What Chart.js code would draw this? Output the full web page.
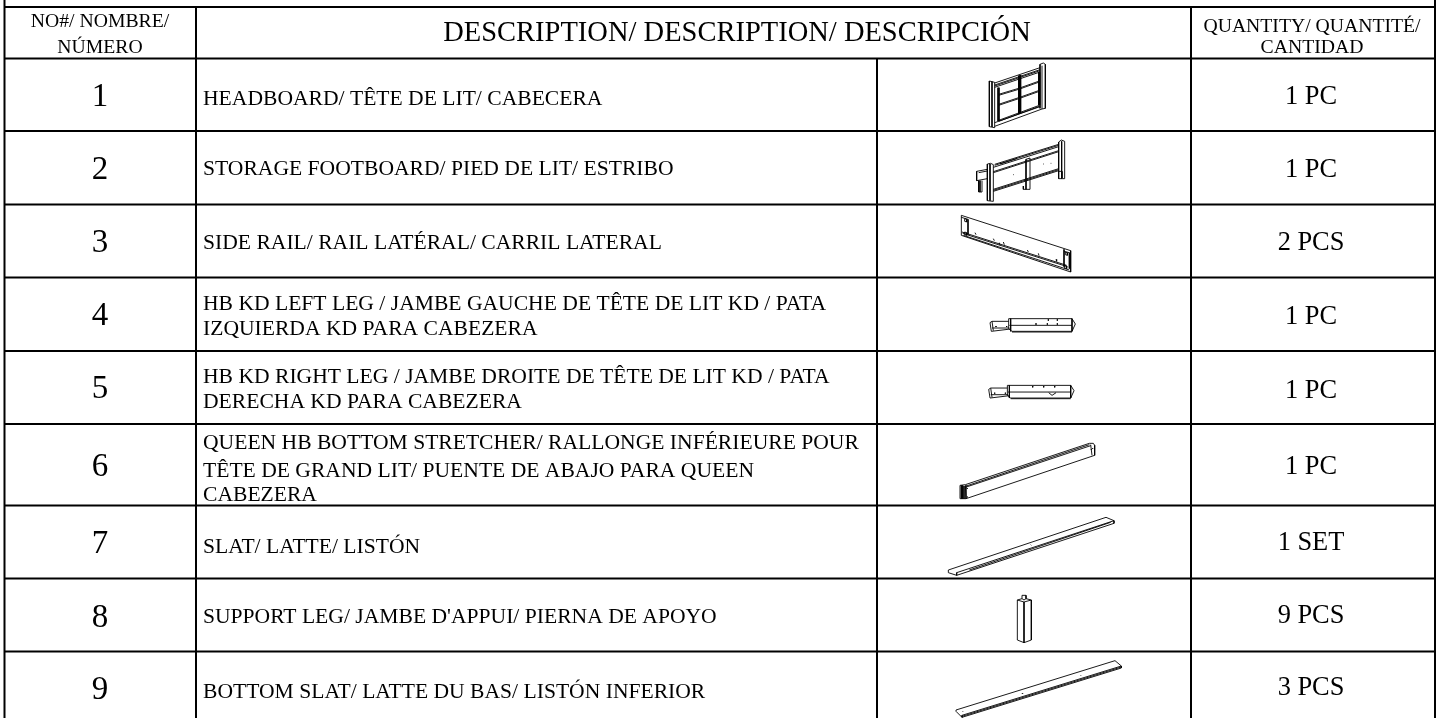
<!DOCTYPE html>
<html><head><meta charset="utf-8">
<style>html,body{margin:0;padding:0;background:#fff;overflow:hidden}canvas{display:block}</style>
<script src="https://cdn.jsdelivr.net/npm/chart.js@4"></script>
</head><body><canvas id="c" width="1440" height="718"></canvas>
<script>
const headerNumber = ["NO#/ NOMBRE/","NÚMERO"];
const headerDescription = "DESCRIPTION/ DESCRIPTION/ DESCRIPCIÓN";
const headerQuantity = ["QUANTITY/ QUANTITÉ/","CANTIDAD"];
const rowNumbers = ["1","2","3","4","5","6","7","8","9"];
const rowDescriptions = [
 ["HEADBOARD/ TÊTE DE LIT/ CABECERA"],
 ["STORAGE FOOTBOARD/ PIED DE LIT/ ESTRIBO"],
 ["SIDE RAIL/ RAIL LATÉRAL/ CARRIL LATERAL"],
 ["HB KD LEFT LEG / JAMBE GAUCHE DE TÊTE DE LIT KD / PATA","IZQUIERDA KD PARA CABEZERA"],
 ["HB KD RIGHT LEG / JAMBE DROITE DE TÊTE DE LIT KD / PATA","DERECHA KD PARA CABEZERA"],
 ["QUEEN HB BOTTOM STRETCHER/ RALLONGE INFÉRIEURE POUR","TÊTE DE GRAND LIT/ PUENTE DE ABAJO PARA QUEEN","CABEZERA"],
 ["SLAT/ LATTE/ LISTÓN"],
 ["SUPPORT LEG/ JAMBE D'APPUI/ PIERNA DE APOYO"],
 ["BOTTOM SLAT/ LATTE DU BAS/ LISTÓN INFERIOR"]
];
const rowQuantities = ["1 PC","1 PC","2 PCS","1 PC","1 PC","1 PC","1 SET","9 PCS","3 PCS"];

// table rules, in axis units
const rowEdges = [7,58.5,131,204.5,277.5,351,424,505.5,578.5,651.5];
const columnEdges = [4.5,196,877,1191,1435];

// line art of each part: polylines in 1/3-unit local coordinates
const artHeadboard = [
 [[88,78],[88,215],[104,218],[104,82],[88,78]],[[96,80],[96,216]],
 [[240,28],[250,24],[256,28],[256,160],[246,162],[246,32]],[[240,28],[240,160]],
 [[104,84],[240,38]],[[104,90],[240,44]],[[104,93],[240,47]],[[104,97],[240,51]],
 [[114,98],[114,198]],[[117,98],[117,198]],[[236,52],[236,150]],[[239,52],[239,150]],[[176,62],[176,176]],[[179,61],[179,175]],[[182,60],[182,174]],
 [[116,118],[176,100]],[[116,121],[176,103]],[[116,148],[176,128]],[[116,151],[176,131]],
 [[182,98],[238,78]],[[182,101],[238,81]],[[182,126],[238,106]],[[182,129],[238,109]],
 [[116,196],[238,151]],[[116,199],[238,154]],[[104,203],[240,155]],[[104,214],[246,162]]
];
const artFootboard = [
 [[82,102],[82,212],[100,214],[100,104],[92,100],[82,102]],[[90,102],[90,212]],
 [[198,88],[198,178],[210,178],[210,84],[198,88]],
 [[296,36],[296,146],[314,146],[314,34],[304,30],[296,36]],[[305,34],[305,146]],
 [[100,112],[296,50]],[[100,125],[296,62]],[[100,128],[296,65]],
 [[100,178],[296,116]],[[100,181],[296,119]],[[100,184],[296,122]],
 [[104,103],[296,43]],[[104,106],[296,46]],[[120,102],[170,86]],
 [[50,124],[82,118]],[[50,124],[50,152],[82,146]],[[56,152],[56,186],[66,186],[66,152]],[[60,152],[60,186]],[[56,128],[82,123]],
 [[296,124],[306,124],[306,144]],[[190,168],[190,178],[198,178]],
 [[145,136],[147,136]],[[160,134],[162,134]],[[250,102],[252,102]],[[272,100],[274,100]]
];
const artSideRail = [
 [[64,76],[392,182],[392,246],[64,136],[64,76]],
 [[66,126],[380,226]],[[68,130],[382,230]],[[70,136],[388,240]],
 [[64,82],[84,88],[84,134]],[[372,178],[372,230]],[[372,184],[388,188],[388,236]],
 [[74,86],[80,88],[80,96],[74,94],[74,86]],[[74,126],[80,128],[80,136],[74,134],[74,126]],
 [[376,186],[382,188],[382,196],[376,194],[376,186]],[[374,226],[380,228],[380,236],[374,234],[374,226]],
 [[105,128],[108,134]],[[160,146],[163,152]],[[178,158],[180,166]],[[190,156],[193,164]],[[262,180],[265,186]],[[295,190],[297,197]],[[348,208],[350,214]]
];
const artLegLeft = [
 [[116,56],[306,56],[316,72],[306,94],[126,94],[116,86],[116,56]],[[122,56],[122,94]],[[118,76],[306,76],[306,94]],[[306,56],[306,76]],[[126,96],[306,96]],
 [[60,68],[66,64],[116,64]],[[60,68],[64,94],[122,87]],[[66,64],[70,92]],[[66,84],[118,84]],
 [[198,70],[198,74]],[[232,70],[232,74]],[[262,70],[262,74]],[[235,58],[235,62]],[[262,58],[262,62]],[[78,78],[78,81]],[[110,78],[110,81]]
];
const artLegRight = [
 [[116,56],[306,56],[316,72],[306,94],[126,94],[116,86],[116,56]],[[122,56],[122,94]],[[118,76],[306,76],[306,94]],[[306,56],[306,76]],[[126,96],[306,96]],
 [[60,68],[66,64],[116,64]],[[60,68],[64,94],[122,87]],[[66,64],[70,92]],[[66,84],[118,84]],
 [[192,58],[192,62]],[[225,58],[225,62]],[[258,58],[258,62]],[[240,78],[250,86],[262,78]],[[78,78],[78,81]],[[110,78],[110,81]]
];
const artStretcher = [
 [[90,256],[106,254],[478,130],[490,130],[494,136],[494,166],[108,296],[92,296],[90,256]],
 [[106,259],[478,134]],[[106,262],[482,137]],
 [[94,256],[94,296]],[[98,256],[98,296]],[[102,258],[102,296]],[[106,256],[108,296]],
 [[482,134],[486,166]],[[484,148],[484,150]],[[488,144],[488,146]],[[112,264],[112,266]],[[112,290],[112,292]]
];
const artSlat = [
 [[55,510],[528,352],[552,362],[552,370],[80,526],[55,518],[55,510]],
 [[80,518],[552,362]],[[118,510],[542,367]],[[80,518],[80,526]],[[302,434],[304,436]]
];
const artSupportLeg = [
 [[262,90],[282,96],[304,90],[304,210],[282,218],[262,210],[262,90]],
 [[262,90],[276,86]],[[288,86],[304,90]],[[282,96],[282,218]],[[276,86],[276,76],[288,76],[288,86]],[[276,86],[282,90],[288,86]]
];
const artBottomSlat = [
 [[78,420],[555,272],[574,288],[574,294],[96,442],[78,424],[78,420]],
 [[96,436],[574,288]],[[96,439],[574,291]],[[96,436],[96,442]],
 [[98,424],[100,426]],[[276,370],[278,372]],[[452,316],[454,318]]
];

const artPlacement = [
 [artHeadboard,960,55],[artFootboard,960,130],[artSideRail,940,190],
 [artLegLeft,970,300],[artLegRight,968.7,366.7],[artStretcher,930,400],
 [artSlat,930,400],[artSupportLeg,930,570],[artBottomSlat,930,570]
];

function polyDataset(polys, width, ox=0, oy=0, k=1){
  const data=[];
  polys.forEach(p=>{p.forEach(([x,y])=>data.push({x:ox+x*k,y:oy+y*k}));data.push({x:null,y:null});});
  return {data,showLine:true,borderColor:'#000',borderWidth:width,pointRadius:0,spanGaps:false,fill:false,tension:0,parsing:false,normalized:true,clip:false};
}
const bottom=718, top0=0;
const rules=[];
rowEdges.forEach(y=>rules.push([[columnEdges[0],y],[columnEdges[4],y]]));
rules.push([[columnEdges[0],top0],[columnEdges[0],bottom]]);
rules.push([[columnEdges[4],top0],[columnEdges[4],bottom]]);
rules.push([[columnEdges[1],rowEdges[0]],[columnEdges[1],bottom]]);
rules.push([[columnEdges[3],rowEdges[0]],[columnEdges[3],bottom]]);
rules.push([[columnEdges[2],rowEdges[1]],[columnEdges[2],bottom]]);

const datasets=[polyDataset(rules,2)];
artPlacement.forEach(([a,ox,oy])=>datasets.push(polyDataset(a,0.9,ox,oy,1/3)));

const SERIF='"Liberation Serif","Times New Roman",serif';
const descBase=[[105],[175],[249],[310,335],[383,408],[449,477,501],[553],[623],[698]];
const numBase=[106,179,252,325,398,476,553,627,699];
const qtyBase=[104,177,250,324,398,474,550,623,695];
const tablePlugin={id:'tableText',afterDatasetsDraw(chart){
  const c=chart.ctx,X=chart.scales.x,Y=chart.scales.y;
  const put=(t,x,y,size,al)=>{c.font=size+'px '+SERIF;c.textAlign=al;c.textBaseline='alphabetic';c.fillStyle='#000';c.fillText(t,X.getPixelForValue(x),Y.getPixelForValue(y));};
  c.save();
  headerNumber.forEach((t,i)=>put(t,100,[27,53][i],19.7,'center'));
  put(headerDescription,737,41,28.5,'center');
  headerQuantity.forEach((t,i)=>put(t,1312,[32,53][i],19.7,'center'));
  rowNumbers.forEach((t,i)=>put(t,100,numBase[i],33,'center'));
  rowDescriptions.forEach((ls,i)=>ls.forEach((t,j)=>put(t,203,descBase[i][j],21.6,'left')));
  rowQuantities.forEach((t,i)=>put(t,1311,qtyBase[i],26.4,'center'));
  c.restore();
}};
new Chart(document.getElementById('c'),{
 type:'scatter',data:{datasets},plugins:[tablePlugin],
 options:{responsive:false,animation:false,events:[],layout:{padding:0},
  plugins:{legend:{display:false},tooltip:{enabled:false},title:{display:false}},
  scales:{x:{type:'linear',min:0,max:1440,display:false},y:{type:'linear',min:0,max:718,reverse:true,display:false}}}
});
</script></body></html>
